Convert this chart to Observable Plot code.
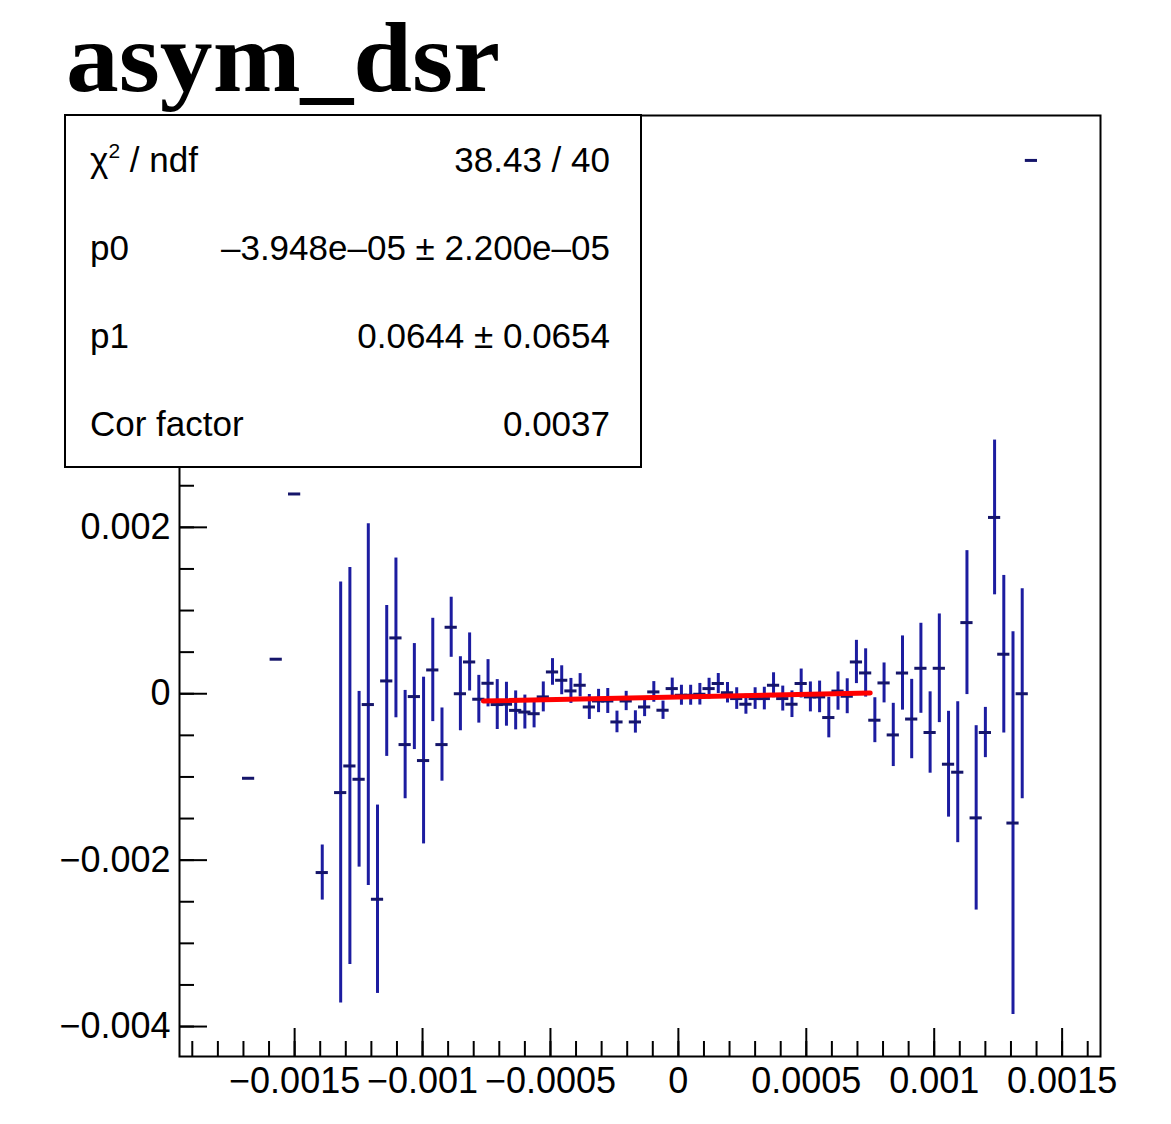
<!DOCTYPE html>
<html><head><meta charset="utf-8">
<script src="https://cdn.jsdelivr.net/npm/d3@7"></script>
<script src="https://cdn.jsdelivr.net/npm/@observablehq/plot@0.6"></script>
<style>
html,body{margin:0;padding:0;background:#fff;}
#wrap{position:relative;width:1171px;height:1124px;}
#wrap svg{position:absolute;left:0;top:0;}
</style></head><body><div id="wrap"></div>
<script>
const title = "asym_dsr";
const xMin = -0.00195, xMax = 0.00165, nBins = 100;
const yMin = -0.00436, yMax = 0.00695;

// filled bins (index), bin content and error, in units of 1e-3
const bins = [7,10,12,15,17,18,19,20,21,22,23,24,25,26,27,28,29,30,31,32,33,34,35,36,37,38,39,40,41,42,43,44,45,46,47,48,49,50,51,52,53,54,55,56,57,58,59,60,61,62,63,64,65,66,67,68,69,70,71,72,73,74,75,76,77,78,79,80,81,82,83,84,85,86,87,88,89,90,91,92];
const valuesE3 = [-1.016,0.415,2.401,-2.149,-1.188,-0.868,-1.028,-0.130,-2.470,0.154,0.671,-0.611,-0.034,-0.803,0.286,-0.611,0.799,0.000,0.382,-0.066,0.126,-0.130,-0.126,-0.200,-0.220,-0.240,-0.038,0.262,0.162,0.034,0.102,-0.159,-0.087,-0.087,-0.339,-0.087,-0.339,-0.159,0.022,-0.198,0.062,-0.018,-0.018,-0.006,0.062,0.123,0.012,-0.058,-0.126,-0.058,-0.058,0.102,-0.058,-0.126,0.123,-0.038,-0.038,-0.286,0.032,-0.030,0.382,0.250,-0.318,0.130,-0.495,0.249,-0.304,0.306,-0.466,0.306,-0.847,-0.943,0.855,-1.492,-0.466,2.119,0.475,-1.554,0.000,6.410];
const errorsE3 = [0,0,0,0.331,2.53,2.386,1.056,2.174,1.132,0.907,0.960,0.651,0.637,1.002,0.621,0.44,0.361,0.445,0.349,0.287,0.284,0.30,0.264,0.234,0.204,0.17,0.18,0.16,0.174,0.15,0.14,0.15,0.14,0.15,0.13,0.116,0.134,0.116,0.124,0.11,0.126,0.12,0.12,0.13,0.124,0.12,0.123,0.13,0.12,0.13,0.136,0.15,0.15,0.16,0.174,0.18,0.19,0.244,0.23,0.21,0.26,0.29,0.27,0.24,0.38,0.446,0.477,0.541,0.489,0.653,0.636,0.847,0.865,1.108,0.302,0.93,0.947,2.30,1.262,0];

// linear fit
const fitP0 = -3.948e-5, fitP1 = 0.0644, fitFrom = -0.000762, fitTo = 0.00075;

const statLabels = ["p0","p1","Cor factor"];
const statValues = ["38.43 / 40","\u20133.948e\u201305 \u00b1 2.200e\u201305","0.0644 \u00b1 0.0654","0.0037"];

const xMajor = [-0.0015,-0.001,-0.0005,0,0.0005,0.001,0.0015];
const xMinor = d3.range(-19,17).map(k => k/10000);
const yMajor = [-0.004,-0.002,0,0.002];
const yMinor = d3.range(-8,14).map(k => k/2000);

const binW = (xMax - xMin) / nBins;
const table = bins.map((b, i) => {
  const xc = xMin + (b + 0.5) * binW;
  const v = valuesE3[i] * 1e-3, e = errorsE3[i] * 1e-3;
  return {x: xc, left: xc - binW/2, right: xc + binW/2, y: v, lo: v - e, hi: v + e};
});
const fitData = [fitFrom, fitTo].map(x => ({x, y: fitP0 + fitP1 * x}));

const fmt = d => d === 0 ? "0" : (d < 0 ? "\u2212" : "") + String(Math.abs(d));
const font = "'Liberation Sans', Arial, Helvetica, sans-serif";

const chart = Plot.plot({
  width: 1171, height: 1124,
  marginLeft: 179, marginRight: 71, marginTop: 115, marginBottom: 68,
  style: {fontFamily: font, background: "white", overflow: "visible"},
  x: {domain: [xMin, xMax]},
  y: {domain: [yMin, yMax]},
  marks: [
    Plot.ruleX(table, {x: "x", y1: "lo", y2: "hi", stroke: "#1c1ca0", strokeWidth: 3}),
    Plot.ruleY(table, {y: "y", x1: "left", x2: "right", stroke: "#15156a", strokeWidth: 3, strokeLinecap: "square"}),
    Plot.line(fitData, {x: "x", y: "y", stroke: "#ff0000", strokeWidth: 5}),
    Plot.axisX(xMinor, {anchor: "bottom", tickSize: -15, tickFormat: () => "", strokeWidth: 2}),
    Plot.axisX(xMajor, {anchor: "bottom", tickSize: -28, tickFormat: () => "", strokeWidth: 2}),
    Plot.axisX(xMajor, {anchor: "bottom", tickSize: 0, tickPadding: 11, fontSize: 36, tickFormat: fmt}),
    Plot.axisY(yMinor, {anchor: "left", tickSize: -15, tickFormat: () => "", strokeWidth: 2}),
    Plot.axisY(yMajor, {anchor: "left", tickSize: -28, tickFormat: () => "", strokeWidth: 2}),
    Plot.axisY(yMajor, {anchor: "left", tickSize: 0, tickPadding: 9, fontSize: 36, tickFormat: fmt}),
    Plot.frame({stroke: "black", strokeWidth: 2})
  ]
});
document.getElementById("wrap").appendChild(chart);

// title and fit statistics box
const ov = d3.select("#wrap").append("svg").attr("width", 1171).attr("height", 1124);
ov.append("text").attr("x", 66).attr("y", 91)
  .attr("font-family", "'Liberation Serif','Times New Roman',serif")
  .attr("font-weight", "bold").attr("font-size", 100)
  .attr("textLength", 434).attr("lengthAdjust", "spacingAndGlyphs").text(title);
ov.append("rect").attr("x", 65).attr("y", 115).attr("width", 576).attr("height", 352)
  .attr("fill", "white").attr("stroke", "black").attr("stroke-width", 2);
const rowBase = [172, 260, 348, 436];
const g = ov.append("g").attr("font-family", font).attr("font-size", 35).attr("fill", "black");
const chi = g.append("text").attr("x", 90).attr("y", rowBase[0]);
chi.append("tspan").text("\u03c7");
chi.append("tspan").attr("font-size", 21).attr("dy", -14).text("2");
chi.append("tspan").attr("dy", 14).text(" / ndf");
statLabels.forEach((s, i) => g.append("text").attr("x", 90).attr("y", rowBase[i+1]).text(s));
statValues.forEach((s, i) => g.append("text").attr("x", 610).attr("y", rowBase[i]).attr("text-anchor", "end").text(s));
</script></body></html>
